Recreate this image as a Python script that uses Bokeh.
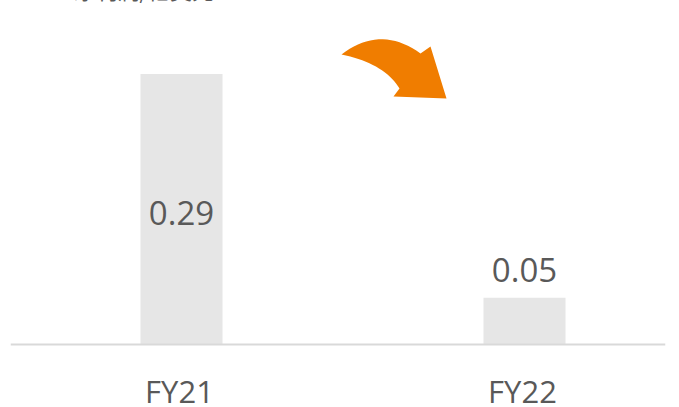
import numpy as np
from bokeh.plotting import figure
from bokeh.models import ColumnDataSource, Span, Range1d
from bokeh.core.properties import value
from bokeh.embed import file_html
from bokeh.resources import INLINE

# ---- data ----
categories = ["FY21", "FY22"]
values = [0.29, 0.05]
unit_label = "净利润/亿美元"

# ---- layout geometry (pixels) ----
FIG_W, FIG_H = 663, 413
BORDER_L, BORDER_R = 2, 6
FRAME_W = FIG_W - BORDER_L - BORDER_R
PX_PER_X = 343.0
PX_PER_Y = 933.0
BASE_FROM_TOP = 350.0   # baseline distance from figure top
X0_FROM_LEFT = 171.0    # first category centre from frame left

x_start = -X0_FROM_LEFT / PX_PER_X
x_end = x_start + FRAME_W / PX_PER_X
y_end = BASE_FROM_TOP / PX_PER_Y
y_start = y_end - FIG_H / PX_PER_Y

def sx(px):  # frame px -> data x
    return x_start + px / PX_PER_X

def sy(py):  # frame px (from top) -> data y
    return y_end - py / PX_PER_Y

p = figure(width=FIG_W, height=FIG_H, output_backend="svg", toolbar_location=None,
           x_range=Range1d(x_start, x_end), y_range=Range1d(y_start, y_end),
           min_border_left=BORDER_L, min_border_right=BORDER_R,
           min_border_top=0, min_border_bottom=0,
           background_fill_color="white", border_fill_color="white")
p.margin = (-6, 0, -8, 8)
p.outline_line_color = None
p.xaxis.visible = False
p.yaxis.visible = False
p.xgrid.visible = False
p.ygrid.visible = False

xs = list(range(len(categories)))
src = ColumnDataSource(dict(x=xs, top=values, cat=categories,
                            lab=[f"{v:.2f}" for v in values]))
p.vbar(x="x", top="top", width=82 / PX_PER_X, bottom=0, source=src,
       fill_color="#E6E6E6", line_color=None)

baseline = Span(location=0, dimension="width", line_color="#D9D9D9", line_width=2)
p.add_layout(baseline)

TXT = "#595959"
FONT = value("Open Sans")

# value labels: inside tall bars, above short bars
inside = [v > 0.15 for v in values]
in_src = ColumnDataSource(dict(x=[x for x, i in zip(xs, inside) if i],
                               y=[v / 2 for v, i in zip(values, inside) if i],
                               t=[f"{v:.2f}" for v, i in zip(values, inside) if i]))
out_src = ColumnDataSource(dict(x=[x for x, i in zip(xs, inside) if not i],
                                y=[v for v, i in zip(values, inside) if not i],
                                t=[f"{v:.2f}" for v, i in zip(values, inside) if not i]))
p.text(x="x", y="y", text="t", source=in_src, text_font=FONT, text_font_size="33px",
       text_color=TXT, text_align="center", text_baseline="middle", y_offset=4)
p.text(x="x", y="y", text="t", source=out_src, text_font=FONT, text_font_size="33px",
       text_color=TXT, text_align="center", text_baseline="middle", y_offset=-28)

# category labels
p.text(x="x", y=0, text="cat", source=src, text_font=FONT, text_font_size="31px",
       text_color=TXT, text_align="center", text_baseline="middle",
       x_offset=-2, y_offset=46)

# clipped unit label at top
p.text(x=[sx(63)], y=[sy(10)], text=[unit_label], text_font=value("Noto Sans CJK SC"),
       text_font_size="22px", text_color=TXT, text_align="left", text_baseline="bottom")

# decorative orange arrow (frame px coordinates)
def quad(p0, c, p2, n=20):
    t = np.linspace(0, 1, n)
    x = (1 - t) ** 2 * p0[0] + 2 * (1 - t) * t * c[0] + t ** 2 * p2[0]
    y = (1 - t) ** 2 * p0[1] + 2 * (1 - t) * t * c[1] + t ** 2 * p2[1]
    return list(x), list(y)

def fr(pt):  # page px -> frame px
    return (pt[0] - 10, pt[1] + 6)

ox, oy = quad(fr((341, 54)), fr((380, 24)), fr((420, 53)))
hx = [fr(pt)[0] for pt in [(430, 46), (446, 98), (393, 96), (399, 88)]]
hy = [fr(pt)[1] for pt in [(430, 46), (446, 98), (393, 96), (399, 88)]]
ix, iy = quad(fr((399, 88)), fr((384, 63)), fr((341, 54)))
ax = ox + hx + ix[1:]
ay = oy + hy + iy[1:]
p.patch([sx(v) for v in ax], [sy(v) for v in ay], fill_color="#F07D00", line_color=None)

open("out.html", "w").write(file_html(p, INLINE))
